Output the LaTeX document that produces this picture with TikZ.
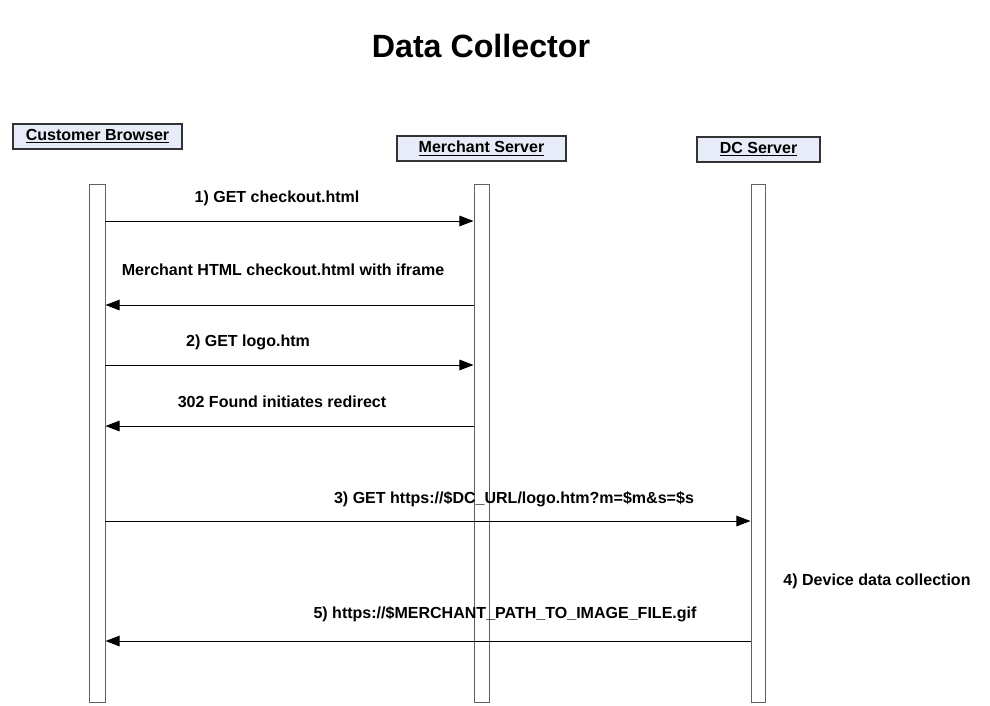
\documentclass[tikz,border=0pt]{standalone}
\usepackage{fontspec}
\setmainfont{Liberation Sans}
\usetikzlibrary{arrows.meta, positioning}

\definecolor{headfill}{HTML}{E8ECF8}
\definecolor{bargray}{HTML}{606060}

\tikzset{
  head/.style={draw=black!80, fill=headfill, line width=0.8pt, minimum height=0.625cm,
    inner sep=0pt, font=\bfseries\fontsize{11.4}{13}\selectfont},
  bar/.style={draw=bargray, fill=white, line width=0.7pt, minimum width=0.4cm,
    minimum height=12.925cm, inner sep=0pt},
  msg/.style={line width=0.7pt, -{Triangle[length=10pt, width=7.5pt]}},
  lbl/.style={font=\bfseries\fontsize{11.4}{13}\selectfont, inner sep=0pt}
}

\begin{document}
\begin{tikzpicture}[x=0.025cm, y=-0.025cm]
    \useasboundingbox (0, 0) rectangle (990, 705);

    \node[font=\bfseries\fontsize{22.9}{27}\selectfont] (title) at (481, 46) {Data Collector};

    % headers
    \node[head, minimum width=4.225cm] (cbhead) at (97.5, 136.5) {\underline{Customer Browser}};
    \node[head, minimum width=4.225cm] (mshead) at (481.5, 148.5) {\underline{Merchant Server}};
    \node[head, minimum width=3.075cm] (dchead) at (758.5, 149.5) {\underline{DC Server}};

    % lifelines
    \node[bar] (cb) at (97, 443.5) {};
    \node[bar, minimum width=0.375cm] (ms) at (481.5, 443.5) {};
    \node[bar, minimum width=0.35cm] (dc) at (758, 443.5) {};

    % messages
    \draw[msg] (cb.east |- 0, 221) -- (ms.west |- 0, 221);
    \draw[msg] (ms.west |- 0, 305) -- (cb.east |- 0, 305);
    \draw[msg] (cb.east |- 0, 365) -- (ms.west |- 0, 365);
    \draw[msg] (ms.west |- 0, 426) -- (cb.east |- 0, 426);
    \draw[msg] (cb.east |- 0, 521) -- (dc.west |- 0, 521);
    \draw[msg] (dc.west |- 0, 641) -- (cb.east |- 0, 641);

    \node[lbl] (m1) at (277, 198) {1) GET checkout.html};
    \node[lbl] (m2) at (283, 270) {Merchant HTML checkout.html with iframe};
    \node[lbl] (m3) at (248, 342) {2) GET logo.htm};
    \node[lbl] (m4) at (282, 402) {302 Found initiates redirect};
    \node[lbl] (m5) at (514, 499) {3) GET https://\$DC\_URL/logo.htm?m=\$m\&s=\$s};
    \node[lbl] (m6) at (877, 581) {4) Device data collection};
    \node[lbl] (m7) at (505, 614) {5) https://\$MERCHANT\_PATH\_TO\_IMAGE\_FILE.gif};
\end{tikzpicture}
\end{document}
